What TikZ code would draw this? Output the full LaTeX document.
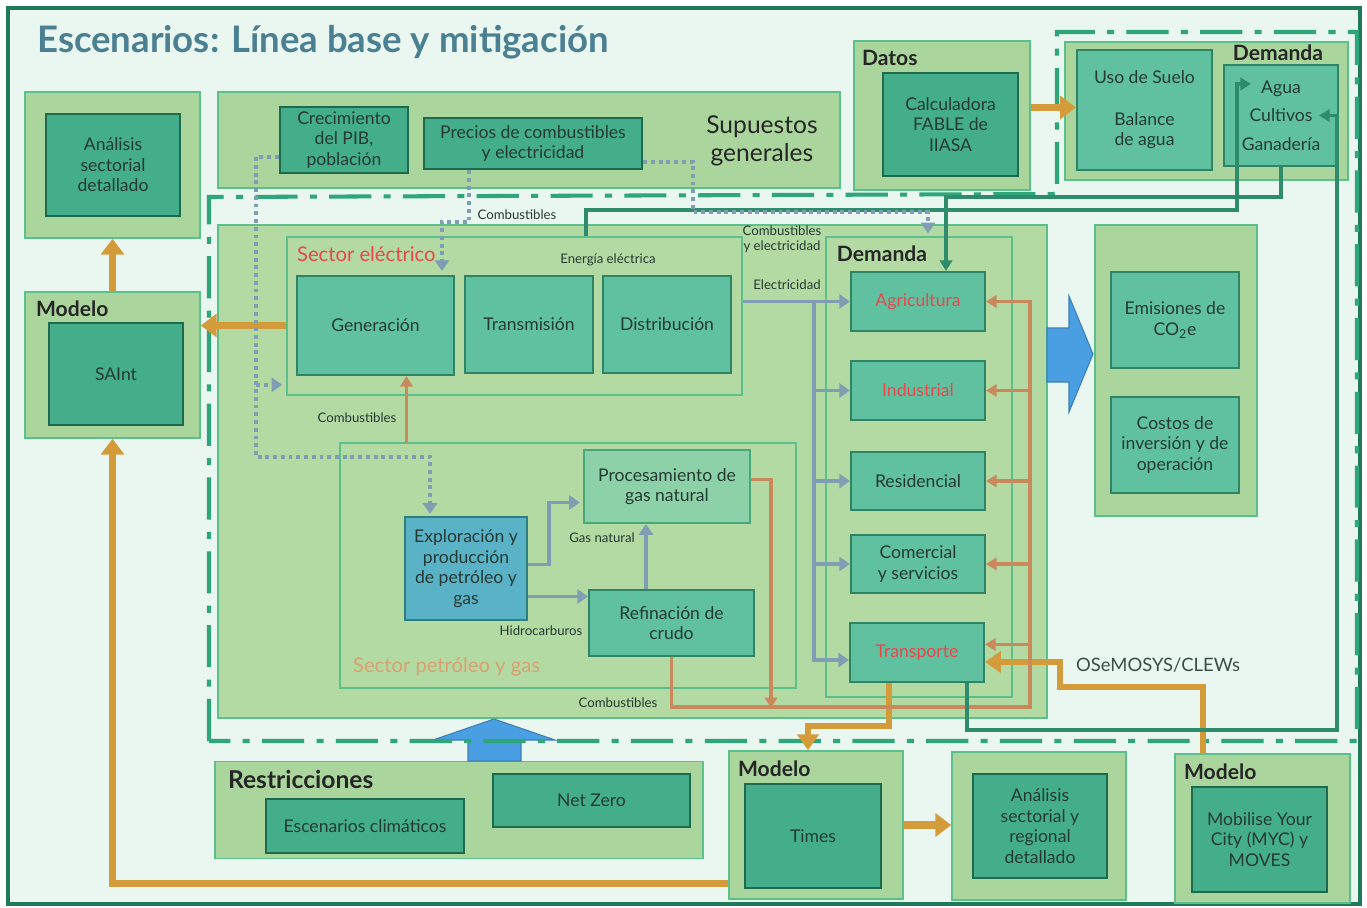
\documentclass[tikz,border=0pt]{standalone}
\usepackage{fontspec}
\setmainfont{Lato}
\usetikzlibrary{arrows.meta,calc}

\definecolor{mint}{HTML}{EAF6F0}
\definecolor{framegreen}{HTML}{1F7B57}
\definecolor{dashgreen}{HTML}{2EA57B}
\definecolor{sage}{HTML}{AAD59C}
\definecolor{sageline}{HTML}{5CC08C}
\definecolor{regionfill}{HTML}{B3DAA3}
\definecolor{deep}{HTML}{44AE8B}
\definecolor{deepline}{HTML}{1F6A4F}
\definecolor{midteal}{HTML}{60C1A0}
\definecolor{midline}{HTML}{2F8465}
\definecolor{paleteal}{HTML}{8DD1A8}
\definecolor{paleline}{HTML}{45A97C}
\definecolor{skyteal}{HTML}{5AB2C7}
\definecolor{skyline}{HTML}{2E7F80}
\definecolor{ink}{HTML}{253A33}
\definecolor{alert}{HTML}{E8474C}
\definecolor{sand}{HTML}{D9A070}
\definecolor{titlec}{HTML}{4A8091}
\definecolor{gold}{HTML}{D49B3B}
\definecolor{copper}{HTML}{C9895B}
\definecolor{slate}{HTML}{7F9EB3}
\definecolor{pine}{HTML}{2E8B6B}
\definecolor{arrowblue}{HTML}{4A9FE3}

\tikzset{
  wd/.style={minimum width=#1*0.02cm},
  ht/.style={minimum height=#1*0.02cm},
  boxtext/.style={font=\fontsize{10}{11.7}\selectfont, text=ink, align=center, inner sep=1pt},
  outbox/.style={draw=sageline, fill=sage, line width=0.9pt},
  region/.style={draw=sageline, fill=regionfill, line width=0.9pt},
  frameonly/.style={draw=sageline, line width=0.9pt},
  inbox/.style={boxtext, draw=deepline, fill=deep, line width=1.4pt},
  midbox/.style={boxtext, draw=midline, fill=midteal, line width=1.2pt},
  palebox/.style={boxtext, draw=paleline, fill=paleteal, line width=1.4pt},
  skybox/.style={boxtext, draw=skyline, fill=skyteal, line width=1.4pt},
  tag/.style={font=\fontsize{12}{14}\selectfont\bfseries, text=black!85, inner sep=1pt},
  sectortag/.style={font=\fontsize{11.5}{13}\selectfont, inner sep=1pt},
  small/.style={font=\fontsize{7.5}{8.6}\selectfont, text=ink, align=center, inner sep=1pt},
  goldarr/.style={draw=gold, line width=4pt, -{Triangle[width=13pt,length=9pt]}},
  goldroute/.style={draw=gold, line width=3.4pt, -{Triangle[width=12pt,length=9pt]}},
  copperarr/.style={draw=copper, line width=1.8pt, -{Triangle[width=7pt,length=6pt]}},
  slatearr/.style={draw=slate, line width=2.2pt, -{Triangle[width=8pt,length=6pt]}},
  pinearr/.style={draw=pine, line width=1.8pt, -{Triangle[width=7pt,length=6pt]}},
  dotarr/.style={draw=slate, line width=2.2pt, dash pattern=on 2.2pt off 2.2pt, -{Triangle[width=8pt,length=6pt]}},
  dashdot/.style={draw=dashgreen, line width=2.3pt, dash pattern=on 24pt off 7pt on 4pt off 7pt},
  bluearrow/.style={fill=arrowblue, draw=arrowblue!80!black, line width=0.6pt}
}

\begin{document}
\begin{tikzpicture}[x=0.02cm, y=-0.02cm]
  \useasboundingbox (0,0) rectangle (1367,907);
  \fill[white] (0,0) rectangle (1367,907);
  \draw[framegreen, line width=2.4pt, fill=mint] (8,8) rectangle (1360,904);
  \node[font=\fontsize{20.8}{24}\selectfont\bfseries, text=titlec, anchor=west] (title) at (31,42) {Escenarios: Línea base y mitigación};

  % left column
  \node[outbox, wd=175, ht=146] (anlo) at (112.5,165) {};
  \node[inbox, wd=134, ht=102] (anli) at (113,165) {Análisis\\sectorial\\detallado};
  \node[outbox, wd=175, ht=146] (sainto) at (112.5,365) {};
  \node[tag, anchor=west] (saintt) at (34,309) {Modelo};
  \node[inbox, wd=134, ht=102] (sainti) at (116,374) {SAInt};

  % supuestos, datos, demanda de suelo
  \node[outbox, wd=622, ht=96] (sup) at (529,140) {};
  \node[inbox, wd=128, ht=66] (pib) at (344,140) {Crecimiento\\del PIB,\\población};
  \node[inbox, wd=218, ht=51] (precios) at (533,143.5) {Precios de combustibles\\y electricidad};
  \node[font=\fontsize{14}{16}\selectfont, text=black!85, align=center] (supt) at (762,141) {Supuestos\\generales};

  \node[outbox, wd=176, ht=149] (datos) at (942,115.5) {};
  \node[tag, anchor=west] (datost) at (860,58) {Datos};
  \node[inbox, wd=135, ht=103] (fable) at (950.5,124.5) {Calculadora\\FABLE de\\IIASA};

  \node[outbox, wd=283, ht=138] (demt) at (1206.5,111) {};
  \node[tag] (demtt) at (1278,53) {Demanda};
  \node[midbox, wd=135, ht=120] (suelo) at (1144.5,110) {Uso de Suelo\\[12pt]Balance\\de agua};
  \node[midbox, wd=114, ht=101] (agua) at (1281,115.5) {Agua\\[4.5pt]Cultivos\\[4.5pt]Ganadería};

  % main region
  \node[region, wd=829, ht=493] (main) at (632.5,471.5) {};
  \node[frameonly, wd=455, ht=158] (elec) at (514.5,316) {};
  \node[sectortag, text=alert, anchor=west] (elect) at (295,254) {Sector eléctrico};
  \node[midbox, wd=157, ht=99] (gen) at (375.5,325.5) {Generación};
  \node[midbox, wd=128, ht=97] (trans) at (529,324.5) {Transmisión};
  \node[midbox, wd=128, ht=97] (dist) at (667,324.5) {Distribución};
  \node[small] (energ) at (608,260) {Energía eléctrica};

  \node[frameonly, wd=186, ht=460] (demm) at (919,467) {};
  \node[tag] (demmt) at (882,254) {Demanda};
  \node[midbox, wd=134, ht=59, text=alert] (agri) at (918,301.5) {Agricultura};
  \node[midbox, wd=134, ht=59, text=alert] (ind) at (918,390.5) {Industrial};
  \node[midbox, wd=134, ht=58] (res) at (918,481) {Residencial};
  \node[midbox, wd=134, ht=58] (com) at (918,564) {Comercial\\y servicios};
  \node[midbox, wd=134, ht=59, text=alert] (trp) at (917,652.5) {Transporte};

  \node[frameonly, wd=456, ht=245] (petro) at (568,565.5) {};
  \node[sectortag, text=sand, anchor=west] (petrot) at (351,667) {Sector petróleo y gas};
  \node[skybox, wd=122, ht=103] (expl) at (466,568.5) {Exploración y\\producción\\de petróleo y\\gas};
  \node[palebox, wd=166, ht=73] (proc) at (667,486.5) {Procesamiento de\\gas natural};
  \node[midbox, wd=165, ht=66] (ref) at (671.5,623) {Refinación de\\crudo};

  % resultados
  \node[outbox, wd=162, ht=291] (outc) at (1176,370.5) {};
  \node[midbox, wd=128, ht=96] (emis) at (1175,320) {Emisiones de\\CO\textsubscript{2}e};
  \node[midbox, wd=128, ht=96] (costos) at (1175,445) {Costos de\\inversión y de\\operación};

  % bottom row
  \node[outbox, wd=488, ht=97] (restr) at (459,810) {};
  \node[tag, font=\fontsize{14}{16}\selectfont\bfseries, anchor=west] (restrt) at (226,779) {Restricciones};
  \node[inbox, wd=197, ht=53] (netz) at (591.5,800.5) {Net Zero};
  \node[inbox, wd=198, ht=54] (escen) at (365,826) {Escenarios climáticos};

  \node[outbox, wd=174, ht=148] (timeso) at (816,825) {};
  \node[tag, anchor=west] (timest) at (736,769) {Modelo};
  \node[inbox, wd=136, ht=104] (times) at (813,836) {Times};

  \node[outbox, wd=174, ht=148] (anlro) at (1039,826) {};
  \node[inbox, wd=134, ht=104] (anlri) at (1040,826) {Análisis\\sectorial y\\regional\\detallado};

  \node[outbox, wd=175, ht=149] (myco) at (1262.5,828.5) {};
  \node[tag, anchor=west] (myct) at (1182,772) {Modelo};
  \node[inbox, wd=135, ht=105] (myci) at (1259.5,839.5) {Mobilise Your\\City (MYC) y\\MOVES};

  % big arrows
  \filldraw[bluearrow] (1047,328) -- (1069,328) -- (1069,296) -- (1093,354) -- (1069,412) -- (1069,382) -- (1047,382) -- cycle;
  \filldraw[bluearrow] (468,761) -- (468,740) -- (433,740) -- (494,719) -- (555,740) -- (521,740) -- (521,761) -- cycle;

  \draw[dashdot] (209,741) -- (209,197) -- (1057,194) -- (1057,32) -- (1357,32) -- (1357,741) -- cycle;

  % gold
  \draw[goldarr] (sainto.north) -- (anlo.south);
  \draw[goldarr] (gen -| elec.west) -- (gen -| sainto.east);
  \draw[goldarr] ($(timeso.south west)+(0,-16)$) -| (sainto.south);
  \draw[goldarr] ($(datos.east)+(0,-8)$) coordinate (fabout) -- (fabout -| suelo.west);
  \draw[goldarr] (timeso.east) -- (timeso.east -| anlro.west);
  \draw[goldroute] ($(trp.south)+(-28,0)$) |- ($(timeso.north)+(-8,-24)$) -- ($(timeso.north)+(-8,0)$);
  \draw[goldroute] ($(myco.north)+(-59.5,0)$) |- ($(trp.east)+(75,34.5)$) |- ($(trp.east)+(0,9.5)$);
  \node[font=\fontsize{10.5}{12}\selectfont, text=ink!90, anchor=west] (osem) at (1070,665) {OSeMOSYS/CLEWs};

  % copper
  \coordinate (bus) at ($(agri.east)+(44,0)$);
  \draw[copperarr] (ref.south) |- ($(bus)+(0,405.5)$) -- (bus) -- (agri.east);
  \foreach \d in {ind,res,com}
    \draw[copperarr] (bus |- \d.east) -- (\d.east);
  \draw[copperarr] ($(bus |- trp.east)+(0,-8)$) -- ($(trp.east)+(0,-8)$);
  \draw[copperarr] ($(proc.east)+(0,-7)$) -| ($(ref.south east)+(16,51)$);
  \draw[copperarr] ($(gen.south)+(31,68)$) -- ($(gen.south)+(31,0)$);
  \node[small] (comb1) at (357,418) {Combustibles};
  \node[small] (comb2) at (618,703) {Combustibles};

  % slate
  \draw[slatearr] (elec.east |- agri) -- (agri.west);
  \coordinate (sbus) at ($(agri.west)+(-36,0)$);
  \draw[slatearr] (sbus) |- ($(trp.west)+(0,7.5)$);
  \foreach \d in {ind,res,com}
    \draw[slatearr] (sbus |- \d.west) -- (\d.west);
  \node[small] (elecl) at (787,285) {Electricidad};
  \draw[slatearr] ($(expl.east)+(0,-4)$) -- ++(21,0) |- ($(proc.west)+(-3,16)$);
  \draw[slatearr] ($(expl.east)+(0,28)$) coordinate (hc) -- (hc -| ref.west);
  \draw[slatearr] ($(ref.north)+(-25.5,0)$) -- ($(proc.south)+(-21,0)$);
  \node[small] (gasl) at (602,538) {Gas natural};
  \node[small] (hidl) at (541,631) {Hidrocarburos};

  % pine
  \draw[pinearr] ($(trans.north east |- elec.north)+(-8,0)$) |- ($(agua.west)+(14,94.5)$) |- ($(agua.north west)+(28,20)$);
  \draw[pinearr] (agua.south) |- ($(agri.north)+(28,-74)$) -- ($(agri.north)+(28,0)$);
  \draw[pinearr] ($(trp.south)+(50,0)$) |- ($(agua.east)+(-2,614.5)$) |- ($(agua.east)+(-20,0)$);

  % dotted
  \draw[dotarr] ($(pib.west)+(0,17)$) -- ++(-23,0) |- ($(expl.north)+(-36,-59)$) -- ($(expl.north)+(-36,-2)$);
  \draw[dotarr] ($(elec.south west)+(-30,-11)$) -- ($(elec.south west)+(-4,-11)$);
  \draw[dotarr] ($(precios.south)+(-64,0)$) |- ($(gen.north)+(66.5,-53)$) -- ($(gen.north)+(66.5,-4)$);
  \draw[dotarr] ($(precios.east)+(0,18.5)$) -- ++(50,0) |- ($(demm.north)+(9,-24)$) -- ($(demm.north)+(9,-3)$);
  \node[small] (comb3) at (517,215) {Combustibles};
  \node[small] (comb4) at (782,239) {Combustibles\\y electricidad};
\end{tikzpicture}
\end{document}
